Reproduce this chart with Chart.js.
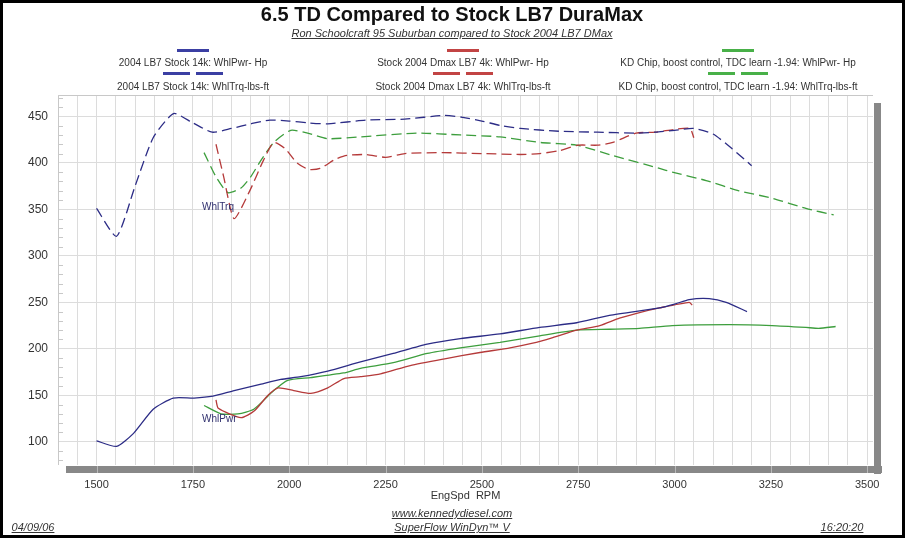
<!DOCTYPE html>
<html>
<head>
<meta charset="utf-8">
<script src="https://cdn.jsdelivr.net/npm/chart.js@4.4.1/dist/chart.umd.min.js"></script>
<style>
  body { margin: 0; background: #fff; }
  #caja { position: relative; width: 905px; height: 538px; overflow: hidden; background: #fff;
          font-family: "Liberation Sans", Arial, sans-serif; color: #222; }
  #grafica { position: absolute; left: 0; top: 0; }
  .txt { position: absolute; white-space: nowrap; transform: translateX(-50%); }
  .titulo { top: 3px; left: 452px; font-size: 20px; font-weight: bold; color: #111; }
  .subtitulo { top: 27px; left: 452px; font-size: 11px; font-style: italic; text-decoration: underline; color: #333; }
  .ley { font-size: 10px; color: #333; }
  .muestra { position: absolute; height: 3px; }
  .pie { font-size: 11px; font-style: italic; text-decoration: underline; color: #333; }
  #marco { position: absolute; left: 0; top: 0; width: 905px; height: 538px; box-sizing: border-box;
           border: 3px solid #000; pointer-events: none; }
</style>
</head>
<body>
<div id="caja">
  <canvas id="grafica" width="905" height="538"></canvas>

  <div class="txt titulo">6.5 TD Compared to Stock LB7 DuraMax</div>
  <div class="txt subtitulo">Ron Schoolcraft 95 Suburban compared to Stock 2004 LB7 DMax</div>

  <div id="leyenda"></div>

  <div class="txt pie" style="left:452px; top:507px;">www.kennedydiesel.com</div>
  <div class="txt pie" style="left:452px; top:521px;">SuperFlow WinDyn™ V</div>
  <div class="txt pie" style="left:33px; top:521px;">04/09/06</div>
  <div class="txt pie" style="left:842px; top:521px;">16:20:20</div>

  <div id="marco"></div>
</div>

<script>
// datos (rpm y valor por serie)
const lb7TrqRpm = [1500, 1552, 1600, 1647, 1700, 1750, 1800, 1850, 1900, 1950, 2000, 2050, 2100, 2200, 2300, 2400, 2450, 2500, 2550, 2600, 2700, 2800, 2900, 2950, 3000, 3050, 3100, 3150, 3200];
const lb7Trq    = [351, 321, 375, 427, 453, 443, 433, 437, 442, 446, 445, 443, 442, 446, 447, 451, 449, 445, 440, 437, 434, 433, 432, 433, 435, 437, 431, 415, 397];

const lb7PwrRpm = [1500, 1552, 1596, 1647, 1699, 1753, 1802, 1857, 1927, 1978, 2030, 2100, 2185, 2270, 2358, 2444, 2547, 2650, 2746, 2831, 2961, 3000, 3038, 3090, 3134, 3188];
const lb7Pwr    = [101, 95, 109, 135, 147, 147, 149, 155, 162, 167, 170, 176, 186, 195, 205, 211, 216, 223, 228, 236, 244, 248, 253, 254, 250, 240];

const dmaxTrqRpm = [1810, 1830, 1857, 1900, 1930, 1960, 1990, 2020, 2050, 2080, 2120, 2150, 2200, 2250, 2300, 2400, 2500, 2600, 2650, 2700, 2750, 2800, 2840, 2900, 2950, 3000, 3040, 3050];
const dmaxTrq    = [420, 385, 340, 372, 400, 422, 415, 400, 393, 394, 404, 408, 409, 406, 410, 411, 410, 409, 410, 413, 419, 419, 422, 432, 433, 436, 437, 427];

const dmaxPwrRpm = [1810, 1816, 1875, 1909, 1945, 1971, 2012, 2056, 2100, 2142, 2185, 2237, 2314, 2400, 2495, 2573, 2632, 2684, 2746, 2806, 2857, 2909, 2961, 3038, 3046];
const dmaxPwr    = [145, 136, 126, 133, 150, 158, 155, 152, 158, 168, 170, 173, 182, 189, 196, 201, 206, 212, 220, 225, 233, 239, 244, 250, 247];

const kdTrqRpm = [1779, 1810, 1841, 1875, 1900, 1927, 1960, 2004, 2048, 2100, 2185, 2332, 2444, 2547, 2650, 2746, 2839, 2961, 2994, 3082, 3167, 3253, 3341, 3413];
const kdTrq    = [411, 385, 368, 373, 385, 403, 422, 435, 432, 426, 428, 432, 430, 428, 422, 419, 408, 394, 390, 381, 370, 362, 351, 344];

const kdPwrRpm = [1779, 1823, 1867, 1908, 1960, 1996, 2056, 2141, 2185, 2270, 2358, 2444, 2547, 2650, 2746, 2831, 2909, 2994, 3142, 3253, 3341, 3374, 3418];
const kdPwr    = [139, 130, 130, 135, 155, 166, 169, 174, 179, 185, 195, 201, 207, 214, 220, 221, 222, 225, 226, 225, 223, 222, 224];

const nombresSeries = [
  "2004 LB7 Stock 14k: WhlPwr-  Hp", "2004 LB7 Stock 14k: WhlTrq-lbs-ft",
  "Stock 2004 Dmax LB7 4k: WhlPwr-  Hp", "Stock 2004 Dmax LB7 4k: WhlTrq-lbs-ft",
  "KD Chip, boost control, TDC learn -1.94: WhlPwr-  Hp", "KD Chip, boost control, TDC learn -1.94: WhlTrq-lbs-ft"
];
const ticksRpm = [1500, 1750, 2000, 2250, 2500, 2750, 3000, 3250, 3500];
const ticksValor = [100, 150, 200, 250, 300, 350, 400, 450];

const colorAzul = "#2c2c86";
const colorRojo = "#b53a3a";
const colorVerde = "#3d9e3d";
const colorLeyenda = ["#3b3fa3", "#c24444", "#48b048"];

function puntos(xs, ys) {
  return xs.map((x, i) => ({ x: x, y: ys[i] }));
}

// leyenda en html: tres columnas, linea de muestra arriba del texto
function armarLeyenda() {
  const cont = document.getElementById("leyenda");
  const centros = [193, 463, 738];
  centros.forEach((cx, i) => {
    let solida = document.createElement("div");
    solida.className = "muestra";
    solida.style.cssText = `left:${cx - 16}px; top:49px; width:32px; background:${colorLeyenda[i]};`;
    cont.appendChild(solida);

    [-30, 3].forEach(dx => {
      let guion = document.createElement("div");
      guion.className = "muestra";
      guion.style.cssText = `left:${cx + dx}px; top:72px; width:27px; background:${colorLeyenda[i]};`;
      cont.appendChild(guion);
    });

    let t1 = document.createElement("div");
    t1.className = "txt ley";
    t1.style.cssText = `left:${cx}px; top:57px;`;
    t1.textContent = nombresSeries[i * 2];
    cont.appendChild(t1);

    let t2 = document.createElement("div");
    t2.className = "txt ley";
    t2.style.cssText = `left:${cx}px; top:81px;`;
    t2.textContent = nombresSeries[i * 2 + 1];
    cont.appendChild(t2);
  });
}

// marco gris, ticks menores y etiquetas WhlTrq / WhlPwr
const pluginMarco = {
  id: "marco",
  afterDraw(chart) {
    const ctx = chart.ctx;
    const a = chart.chartArea;
    const ejeX = chart.scales.x;
    const ejeY = chart.scales.y;
    ctx.save();

    ctx.strokeStyle = "#c8c8c8";
    ctx.lineWidth = 1;
    ctx.beginPath();
    ctx.moveTo(a.left + 0.5, a.bottom);
    ctx.lineTo(a.left + 0.5, a.top + 0.5);
    ctx.lineTo(a.right, a.top + 0.5);
    ctx.stroke();

    // ticks menores del eje y (cada 10)
    for (let v = 80; v <= 470; v += 10) {
      if (v % 50 === 0) continue;
      const y = Math.round(ejeY.getPixelForValue(v)) + 0.5;
      ctx.beginPath();
      ctx.moveTo(a.left, y);
      ctx.lineTo(a.left + 5, y);
      ctx.stroke();
    }

    // barras grises (sombra) derecha y abajo
    ctx.fillStyle = "#888888";
    ctx.fillRect(a.right + 1, a.top + 8, 7, a.bottom - a.top + 1);
    ctx.fillRect(a.left + 8, a.bottom + 1, a.right - a.left + 1, 7);
    ctx.strokeStyle = "#b8b8b8";
    ticksRpm.forEach(r => {
      const x = Math.round(ejeX.getPixelForValue(r)) + 0.5;
      ctx.beginPath();
      ctx.moveTo(x, a.bottom + 1);
      ctx.lineTo(x, a.bottom + 8);
      ctx.stroke();
    });

    ctx.fillStyle = "#30306e";
    ctx.font = "10px 'Liberation Sans', Arial";
    ctx.textAlign = "left";
    ctx.textBaseline = "middle";
    ctx.fillText("WhlTrq", ejeX.getPixelForValue(1774), ejeY.getPixelForValue(352));
    ctx.fillText("WhlPwr", ejeX.getPixelForValue(1774), ejeY.getPixelForValue(124));
    ctx.restore();
  }
};

function crearGrafica() {
  Chart.defaults.font.family = "'Liberation Sans', Arial, sans-serif";
  const ctx = document.getElementById("grafica").getContext("2d");

  const serie = (nombre, xs, ys, color, punteada) => ({
    label: nombre,
    data: puntos(xs, ys),
    borderColor: color,
    borderWidth: 1.3,
    borderDash: punteada ? [10, 5] : [],
    pointRadius: 0,
    tension: 0.2,
    fill: false
  });

  new Chart(ctx, {
    type: "line",
    data: {
      datasets: [
        serie(nombresSeries[0], lb7PwrRpm, lb7Pwr, colorAzul, false),
        serie(nombresSeries[1], lb7TrqRpm, lb7Trq, colorAzul, true),
        serie(nombresSeries[2], dmaxPwrRpm, dmaxPwr, colorRojo, false),
        serie(nombresSeries[3], dmaxTrqRpm, dmaxTrq, colorRojo, true),
        serie(nombresSeries[4], kdPwrRpm, kdPwr, colorVerde, false),
        serie(nombresSeries[5], kdTrqRpm, kdTrq, colorVerde, true)
      ]
    },
    options: {
      responsive: false,
      animation: false,
      layout: { padding: { top: 95, right: 32, bottom: 35, left: 0 } },
      plugins: { legend: { display: false }, tooltip: { enabled: false } },
      scales: {
        x: {
          type: "linear",
          min: 1400,
          max: 3515,
          afterFit: s => { s.height = 38; },
          afterBuildTicks: s => {
            let t = [];
            for (let r = 1400; r <= 3500; r += 50) t.push({ value: r });
            s.ticks = t;
          },
          ticks: {
            autoSkip: false,
            maxRotation: 0,
            padding: 13,
            color: "#333",
            font: { size: 11 },
            callback: v => ticksRpm.includes(v) ? String(v) : ""
          },
          grid: { color: "#dcdcdc", drawTicks: false },
          border: { display: false },
          title: { display: true, text: "EngSpd  RPM", color: "#333", font: { size: 11 }, padding: { top: 0, bottom: 0 } }
        },
        y: {
          min: 75,
          max: 473,
          afterFit: s => { s.width = 58; },
          afterBuildTicks: s => {
            s.ticks = ticksValor.map(v => ({ value: v }));
          },
          ticks: {
            padding: 10,
            color: "#333",
            font: { size: 12 },
            callback: v => String(v)
          },
          grid: { color: "#dcdcdc", drawTicks: false },
          border: { display: false }
        }
      }
    },
    plugins: [pluginMarco]
  });
}

document.addEventListener("DOMContentLoaded", function() {
  armarLeyenda();
  crearGrafica();
});
</script>
</body>
</html>
